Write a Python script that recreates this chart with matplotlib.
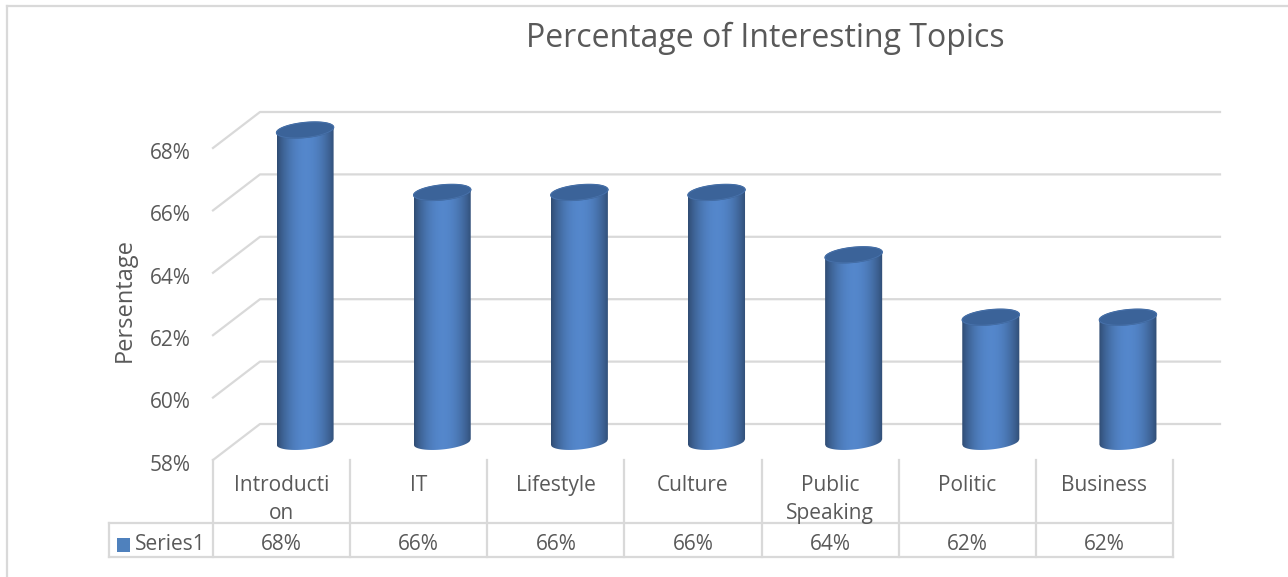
import numpy as np
import matplotlib.pyplot as plt
from matplotlib.patches import Polygon

plt.rcParams['font.family'] = ['Open Sans', 'DejaVu Sans']

categories = ["Introducti\non", "IT", "Lifestyle", "Culture", "Public\nSpeaking", "Politic", "Business"]
values = [68, 66, 66, 66, 64, 62, 62]
value_labels = ["68%", "66%", "66%", "66%", "64%", "62%", "62%"]
yticks = [58, 60, 62, 64, 66, 68]
series_name = "Series1"

W, H = 1288, 577
fig = plt.figure(figsize=(W / 100, H / 100), dpi=100)

# front plane: x 213..1173 px (7 columns), 58% at y=460 px, 31.2 px per 1%
px_per_cat = 960 / 7
px_per_pct = 31.2
ymin, ymax = 58, 72
ax = fig.add_axes([213 / W, (H - 460) / H, 960 / W, (ymax - ymin) * px_per_pct / H])
ax.set_xlim(0, 7)
ax.set_ylim(ymin, ymax)
ax.axis("off")

# depth offset of the back wall
dx = 47 / px_per_cat
dy = 36 / px_per_pct

grid_c = "#d9d9d9"
text_c = "#595959"
fs = 15

for v in yticks:
    ax.plot([0, dx, 7 + dx], [v, v + dy, v + dy], color=grid_c, lw=1.6,
            clip_on=False, zorder=1)
    ax.text(-0.16, v - 0.17, f"{v}%", ha="right", va="center", fontsize=fs,
            color=text_c, clip_on=False)

# cylinders
r = 0.208
e_h = 0.24
shear = 0.42
t = np.linspace(0, 2 * np.pi, 100)
gradient = np.linspace(0, 1, 256)
shade = 0.55 + 0.45 * np.sin(np.pi * gradient) ** 0.8
base_col = np.array([0.33, 0.53, 0.80])
img = np.clip(base_col[None, :] * shade[:, None], 0, 1)[None, :, :]

for i, v in enumerate(values):
    cx = i + 0.5 + dx / 2
    yb = ymin + dy / 2
    yt = v + dy / 2
    xs = np.linspace(-r, r, 60)
    eb = -e_h * np.sqrt(np.clip(1 - (xs / r) ** 2, 0, 1))
    lower = yb + eb + shear * xs
    upper = yt + shear * xs
    poly = np.concatenate([np.column_stack([cx + xs, lower]),
                           np.column_stack([cx + xs[::-1], upper[::-1]])])
    body = Polygon(poly, closed=True, facecolor="none", edgecolor="none")
    ax.add_patch(body)
    im = ax.imshow(img, extent=[cx - r, cx + r, yb - 1, yt + 1], aspect="auto",
                   zorder=3, interpolation="bilinear")
    im.set_clip_path(body)
    ex = cx + r * np.cos(t)
    ey = yt + e_h * np.sin(t) + shear * r * np.cos(t)
    ax.fill(ex, ey, color="#3b6399", zorder=4, clip_on=False)
    ax.plot(ex, ey, color="#4872ab", lw=0.6, zorder=4)

ax.set_xlim(0, 7)
ax.set_ylim(ymin, ymax)

# data table
def py(p):
    return ymin - (p - 460) / px_per_pct

def pxx(p):
    return (p - 213) / px_per_cat

tc = "#d9d9d9"
for k in range(8):
    ax.plot([k, k], [py(460), py(557)], color=tc, lw=1.6, clip_on=False)
ax.plot([pxx(109), 7], [py(523), py(523)], color=tc, lw=1.6, clip_on=False)
ax.plot([pxx(109), 7], [py(557), py(557)], color=tc, lw=1.6, clip_on=False)
ax.plot([pxx(109), pxx(109)], [py(523), py(557)], color=tc, lw=1.6, clip_on=False)

for i, (c, lab) in enumerate(zip(categories, value_labels)):
    ax.text(i + 0.5, py(475), c, ha="center", va="top", fontsize=fs,
            color=text_c, linespacing=1.45, clip_on=False)
    ax.text(i + 0.5, py(545), lab, ha="center", va="center", fontsize=fs,
            color=text_c, clip_on=False)

ax.add_patch(plt.Rectangle((pxx(117), py(552)), 13 / px_per_cat, 14 / px_per_pct,
                           facecolor="#4f81bd", edgecolor="none", clip_on=False))
ax.text(pxx(135), py(545), series_name, ha="left", va="center", fontsize=fs,
        color=text_c, clip_on=False)

fig.text(125 / W, 1 - 300 / H, "Persentage", rotation=90, ha="center", va="center",
         fontsize=17, color=text_c)
fig.text(765 / W, 1 - 38 / H, "Percentage of Interesting Topics", ha="center",
         va="center", fontsize=23, color=text_c)

# outer frame
fig.add_artist(plt.Line2D([7 / W, 1], [1 - 6 / H, 1 - 6 / H], color="#d9d9d9", lw=1.6))
fig.add_artist(plt.Line2D([7 / W, 7 / W], [0, 1 - 6 / H], color="#d9d9d9", lw=1.6))

fig.savefig("out.png", dpi=100)
